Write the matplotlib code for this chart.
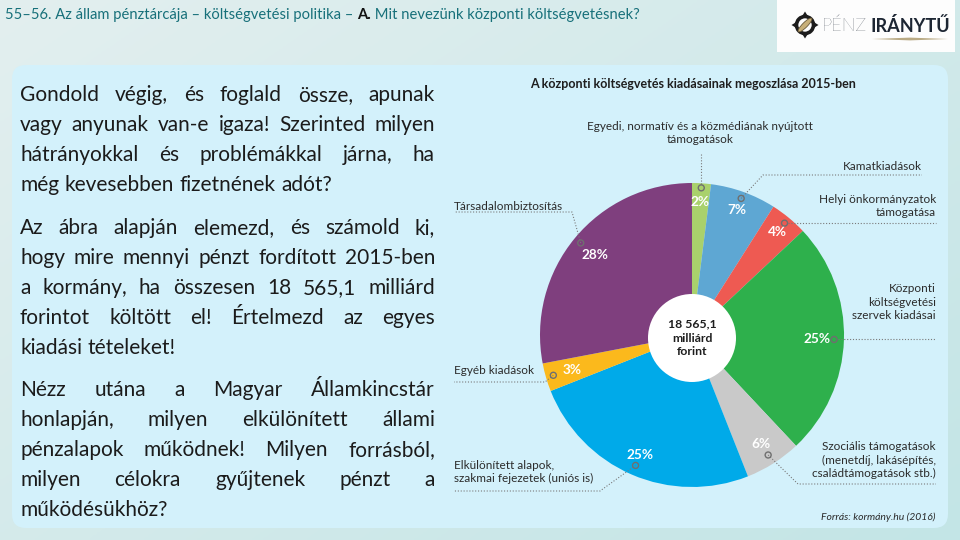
import matplotlib
matplotlib.use("Agg")
import matplotlib.pyplot as plt
import matplotlib.colors as mcolors
from matplotlib.patches import FancyBboxPatch, Circle, Rectangle, Polygon, Ellipse
import numpy as np

# ---------------- data ----------------
categories = [
    "Egyedi, normatív és a közmédiának nyújtott\ntámogatások",
    "Kamatkiadások",
    "Helyi önkormányzatok\ntámogatása",
    "Központi\nköltségvetési\nszervek kiadásai",
    "Szociális támogatások\n(menetdíj, lakásépítés,\ncsaládtámogatások stb.)",
    "Elkülönített alapok,\nszakmai fejezetek (uniós is)",
    "Egyéb kiadások",
    "Társadalombiztosítás",
]
shares = [2, 7, 4, 25, 6, 25, 3, 28]
slice_colors = ["#a9d16c", "#5ea7d3", "#ee5a52", "#2eb04c",
                "#c9c9c9", "#00aae9", "#fbb91c", "#7f3f7e"]
total_text = "18 565,1\nmilliárd\nforint"
chart_title = "A központi költségvetés kiadásainak megoszlása 2015-ben"
source_text = "Forrás: kormány.hu (2016)"
header_parts = ["55–56. Az állam pénztárcája – költségvetési politika – ",
                "A.", " Mit nevezünk központi költségvetésnek?"]
paragraphs = [
    ["Gondold végig, és foglald össze, apunak",
     "vagy anyunak van-e igaza! Szerinted milyen",
     "hátrányokkal és problémákkal járna, ha",
     "még kevesebben fizetnének adót?"],
    ["Az ábra alapján elemezd, és számold ki,",
     "hogy mire mennyi pénzt fordított 2015-ben",
     "a kormány, ha összesen 18 565,1 milliárd",
     "forintot költött el! Értelmezd az egyes",
     "kiadási tételeket!"],
    ["Nézz utána a Magyar Államkincstár",
     "honlapján, milyen elkülönített állami",
     "pénzalapok működnek! Milyen forrásból,",
     "milyen célokra gyűjtenek pénzt a",
     "működésükhöz?"],
]

# ---------------- layout ----------------
W, H = 960, 540
CX, CY, R = 692, 335, 152
BODY = ["Lato", "DejaVu Sans"]
LAB = ["Lato", "DejaVu Sans"]

fig = plt.figure(figsize=(9.6, 5.4), dpi=100)
renderer = fig.canvas.get_renderer()

ax_bg = fig.add_axes([0, 0, 1, 1])
ax_bg.set_xlim(0, W); ax_bg.set_ylim(H, 0); ax_bg.axis("off")


def text_width(s, size, **kw):
    tt = ax_bg.text(0, 0, s, fontsize=size, **kw)
    w = tt.get_window_extent(renderer).width
    tt.remove()
    return w


# background gradient
g = np.linspace(0, 1, 200)
X, Y = np.meshgrid(g, g)
t = X * 0.55 + Y * 0.45
c1 = np.array(mcolors.to_rgb("#e3efef")); c2 = np.array(mcolors.to_rgb("#c3e5e6"))
img = c1 + (c2 - c1) * t[..., None]
ax_bg.imshow(img, extent=(0, W, H, 0), aspect="auto", zorder=0)

# panel
ax_bg.add_patch(FancyBboxPatch((12, 65), 936, 463,
                               boxstyle="round,pad=0,rounding_size=14",
                               fc="#d3f1fb", ec="none", zorder=1))
# logo box
ax_bg.add_patch(Rectangle((777, 0), 178, 52, fc="#fdfdfd", ec="none", zorder=1))
lx, ly = 805, 25
ax_bg.add_patch(Circle((lx, ly), 8.5, fc="none", ec="#1c1c1c", lw=2.6, zorder=2))
for ang in [0, 90, 180, 270]:
    a = np.deg2rad(ang)
    tip = (lx + 13.5 * np.cos(a), ly + 13.5 * np.sin(a))
    b1 = (lx + 9 * np.cos(a + 0.35), ly + 9 * np.sin(a + 0.35))
    b2 = (lx + 9 * np.cos(a - 0.35), ly + 9 * np.sin(a - 0.35))
    ax_bg.add_patch(Polygon([tip, b1, b2], fc="#1c1c1c", ec="none", zorder=2))
ax_bg.add_patch(Ellipse((lx, ly), 19, 5, angle=-45, fc="#c8b07a", ec="#6a5a3a",
                        lw=0.6, zorder=3))
wP10 = text_width("PÉNZ", 10, family=BODY, fontweight="light")
wI10 = text_width("IRÁNYTŰ", 10, family=BODY, fontweight="bold")
logo_size = 10 * (950 - 822 - 3) / (wP10 + wI10)
tP = ax_bg.text(822, 26, "PÉNZ", fontsize=logo_size, family=BODY, fontweight="light",
                color="#1d2633", va="center", ha="left", zorder=3)
wP = tP.get_window_extent(renderer).width
ax_bg.text(822 + wP + 3, 26, "IRÁNYTŰ", fontsize=logo_size, family=BODY,
           fontweight="bold", color="#1d2633", va="center", ha="left", zorder=3)
ax_bg.add_patch(Polygon([(872, 39), (910, 37.6), (948, 39), (910, 40.4)],
                        fc="#b9aa84", ec="none", zorder=3))

# header line
hdr_styles = [("#17707a", "normal"), ("#111111", "bold"), ("#17707a", "normal")]
tot10 = sum(text_width(p, 10, family=LAB, fontweight=wt)
            for p, (c, wt) in zip(header_parts, hdr_styles))
hdr_size = 10 * 630 / tot10
x = 5
for part, (col, wt) in zip(header_parts, hdr_styles):
    tt = ax_bg.text(x, 15, part, fontsize=hdr_size, family=LAB, color=col,
                    fontweight=wt, va="center", ha="left", zorder=3)
    x += tt.get_window_extent(renderer).width

# left justified paragraphs
baselines = [[101, 131, 161, 191], [234, 264, 294, 324, 354], [396, 426, 456, 486, 516]]
X0, X1 = 20, 435
maxw = max(text_width(line, 10, family=BODY) for para in paragraphs for line in para[:-1])
body_size = min(15.0, 10 * (X1 - X0 - 2) / maxw)
for para, bls in zip(paragraphs, baselines):
    for i, (line, yb) in enumerate(zip(para, bls)):
        words = line.split(" ")
        txts = [ax_bg.text(0, yb, w, fontsize=body_size, family=BODY, color="#1b1b1b",
                           va="baseline", ha="left", zorder=3) for w in words]
        widths = [tt.get_window_extent(renderer).width for tt in txts]
        last = (i == len(para) - 1)
        if last or len(words) == 1:
            gap = body_size * 100 / 72 * 0.27
        else:
            gap = (X1 - X0 - sum(widths)) / (len(words) - 1)
        xx = X0
        for tt, w in zip(txts, widths):
            tt.set_x(xx)
            xx += w + gap

# chart title & source
ax_bg.text(530, 84, chart_title, fontsize=9, family=LAB, fontweight="bold",
           color="#1e1e1e", va="center", ha="left", zorder=3)
ax_bg.text(935, 517, source_text, fontsize=7.5, family=LAB, style="italic",
           color="#2a2a2a", va="center", ha="right", zorder=3)

# ---------------- pie ----------------
ax_pie = fig.add_axes([(CX - R) / W, (H - CY - R) / H, 2 * R / W, 2 * R / H])
ax_pie.pie(shares, colors=slice_colors, startangle=90, counterclock=False,
           radius=1, wedgeprops=dict(linewidth=0))
ax_pie.set_xlim(-1, 1); ax_pie.set_ylim(-1, 1); ax_pie.axis("off")

# ---------------- overlay ----------------
ax = fig.add_axes([0, 0, 1, 1])
ax.set_xlim(0, W); ax.set_ylim(H, 0); ax.axis("off"); ax.patch.set_alpha(0)

ax.add_patch(Circle((CX, CY + 3), 44, fc="white", ec="none", zorder=2))
ax.text(CX, CY + 3, total_text, fontsize=8.8, family=LAB, fontweight="bold",
        color="#1e1e1e", ha="center", va="center", linespacing=1.3, zorder=3)

cum = np.cumsum([0] + shares[:-1])
mids = [(c + s / 2) / sum(shares) * 2 * np.pi for c, s in zip(cum, shares)]
lab_f = [0.875, 0.875, 0.88, 0.82, 0.85, 0.86, 0.82, 0.83]
mk_f = [0.97, 0.955, 0.955, 0.935, 0.935, 0.935, 0.95, 0.95]


def pos(theta, f):
    return CX + R * f * np.sin(theta), CY - R * f * np.cos(theta)


markers = []
for k, (th, s) in enumerate(zip(mids, shares)):
    lxp, lyp = pos(th, lab_f[k])
    ax.text(lxp, lyp, f"{s}%", fontsize=9.8, family=LAB, fontweight="bold",
            color="white", ha="center", va="center", zorder=4)
    mx, my = pos(th, mk_f[k])
    markers.append((mx, my))
    ax.add_patch(Circle((mx, my), 3, fc="none", ec="#6f6f6f", lw=1.0, zorder=5))

# leader lines (paths from marker to label)
leaders = [
    None,
    [(763, 175), (922, 175)],
    [(936, None)],
    [(936, None)],
    [(798, 484), (936, 484)],
    [(600, 491), (454, 491)],
    [(545, 382), (454, 382)],
    [(572, 212), (454, 212)],
]
dot = dict(color="#7a7a7a", lw=0.8, linestyle=(0, (1, 1.6)), zorder=3)
for k, path in enumerate(leaders):
    mx, my = markers[k]
    if path is None:
        pts = [(mx, my - 3.5), (mx, 153)]
    elif path[0][1] is None:
        pts = [(mx + 3.5, my), (path[0][0], my)]
    else:
        pts = [(mx, my)] + path
    ax.plot([p[0] for p in pts], [p[1] for p in pts], **dot)

label_specs = [
    (700, 133, "center", 17),
    (922, 167, "right", 17),
    (936, 206, "right", 17),
    (936, 302, "right", 17.5),
    (936, 460, "right", 17.5),
    (454, 472, "left", 18),
    (454, 371, "left", 17),
    (454, 206, "left", 17),
]
LSZ = 8.5
for cat, (tx, ty, ha, lh) in zip(categories, label_specs):
    ax.text(tx, ty, cat, fontsize=LSZ, family=LAB, color="#2b2b2b", ha=ha,
            va="center", multialignment=ha, linespacing=lh / (LSZ * 100 / 72 * 1.2),
            zorder=4)

fig.savefig("out.png", dpi=100)
